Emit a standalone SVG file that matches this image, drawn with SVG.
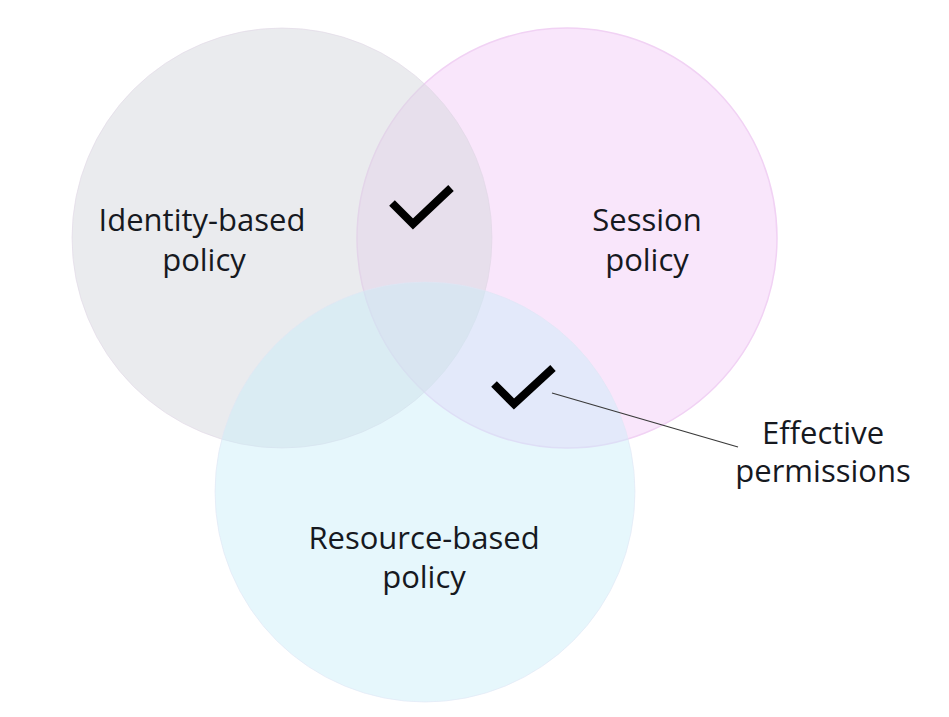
<svg xmlns="http://www.w3.org/2000/svg" width="949" height="717" viewBox="0 0 949 717">
<style>
.lbl{font-family:"Open Sans","Noto Sans","Liberation Sans",sans-serif;font-size:31px;font-weight:500;fill:#16191f;text-anchor:middle}
.chk{fill:none;stroke:#000;stroke-width:8;stroke-linejoin:miter;stroke-linecap:butt}
</style>
<rect width="949" height="717" fill="#fff"/>
<g id="session-policy">
<circle cx="567" cy="238" r="210" fill="rgba(243,205,247,0.5)" stroke="#f1d2f4" stroke-width="1.5"/>
</g>
<g id="identity-based-policy">
<circle cx="282" cy="238" r="210" fill="rgba(214,216,221,0.5)" stroke="rgba(225,215,230,0.6)" stroke-width="1"/>
<text class="lbl" x="202" y="231">Identity-based</text>
<text class="lbl" x="204" y="271">policy</text>
</g>
<g id="resource-based-policy">
<circle cx="425" cy="492" r="210" fill="rgba(200,238,248,0.45)" stroke="rgba(225,230,245,0.6)" stroke-width="1"/>
<text class="lbl" x="424" y="549">Resource-based</text>
<text class="lbl" x="424" y="588">policy</text>
</g>
<g id="session-label">
<text class="lbl" x="647" y="231">Session</text>
<text class="lbl" x="647" y="271">policy</text>
</g>
<g id="checks">
<polyline class="chk" points="392,203 413,224 451,188"/>
<polyline class="chk" points="494,384 514,404 553,368"/>
</g>
<g id="connectors">
<line x1="552" y1="393" x2="738" y2="447" stroke="#3a3a3a" stroke-width="1.3"/>
</g>
<g id="effective-permissions">
<text class="lbl" x="823" y="444">Effective</text>
<text class="lbl" x="823" y="482">permissions</text>
</g>
</svg>
